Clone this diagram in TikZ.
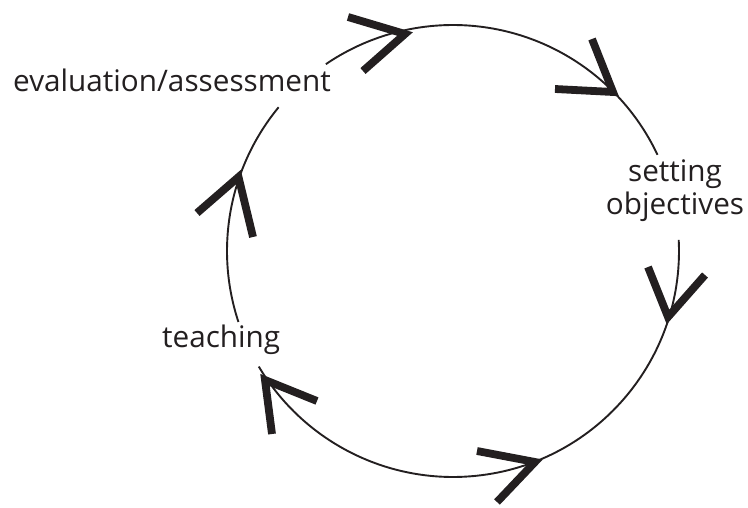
\documentclass[tikz,border=0pt]{standalone}
\usepackage{fontspec}
\setmainfont{Open Sans}
\definecolor{ink}{HTML}{231F20}
\begin{document}
\begin{tikzpicture}[x=1pt,y=1pt,
  ring/.style={draw=ink, line width=1.9},
  chev/.style={draw=ink, line width=7.8, line join=miter, line cap=butt},
  lbl/.style={font=\fontsize{29.7}{33}\selectfont, text=ink, inner sep=0pt}]
\useasboundingbox (0,0) rectangle (748,507);
\coordinate (c) at (453,256);
% labels
\node[lbl, anchor=base west] (eval) at (13,415) {evaluation/assessment};
\node[lbl, anchor=base, align=center] (setobj) at (675,292) {setting\\objectives};
\node[lbl, anchor=base west] (teach) at (162,160) {teaching};
% arcs of the cycle
\draw[ring] (c) ++(198.3:226) arc[start angle=198.3, end angle=140.5, radius=226];
\draw[ring] (c) ++(124.25:226) arc[start angle=124.25, end angle=25.2, radius=226];
\draw[ring] (c) ++(2.8:226) arc[start angle=2.8, end angle=-149.25, radius=226];
% chevron arrowheads
\draw[chev] (348,490) -- (405,473) -- (363,436);
\draw[chev] (592,468) -- (613,415) -- (555,418);
\draw[chev] (648,240) -- (668,190) -- (705,232);
\draw[chev] (477,56) -- (535,45) -- (497,5);
\draw[chev] (317,106) -- (265,127) -- (272,73);
\draw[chev] (197,294) -- (238.5,330) -- (253,270);
\end{tikzpicture}
\end{document}
